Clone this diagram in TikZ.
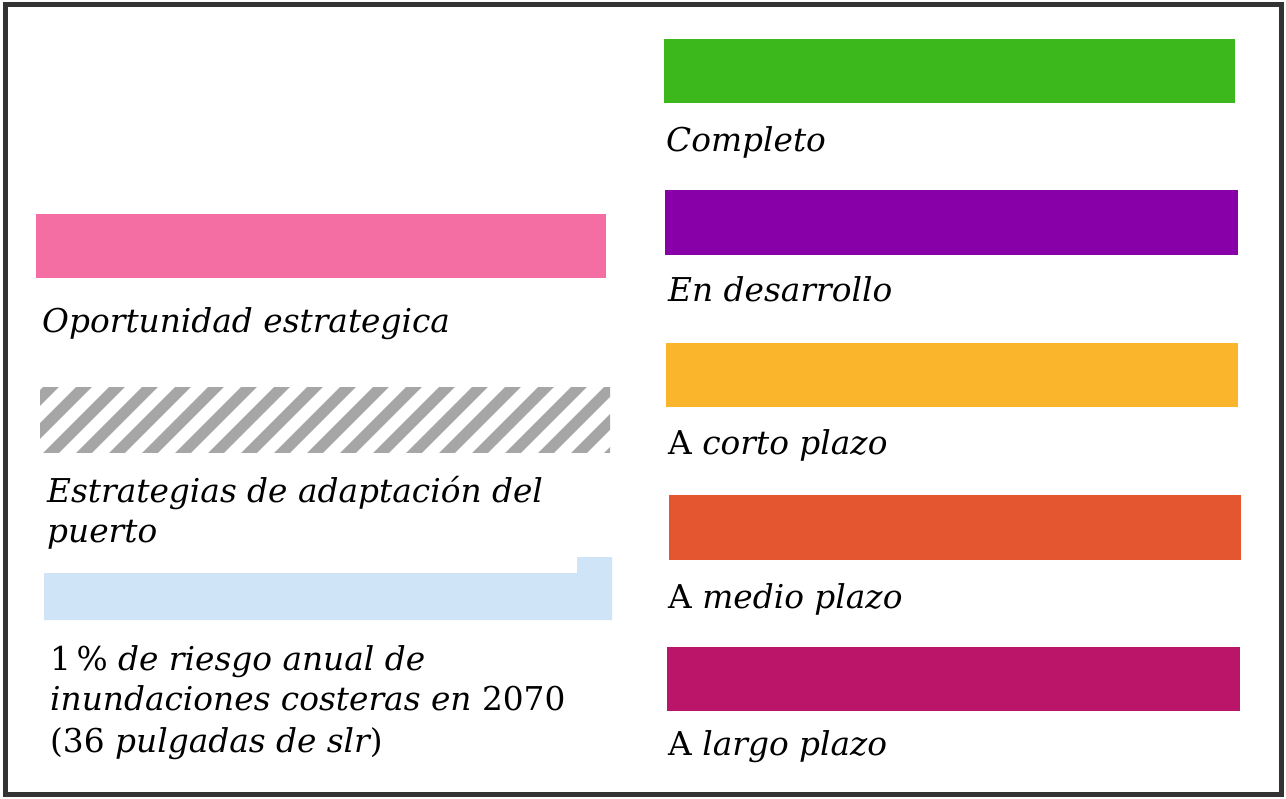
\documentclass[tikz,border=0pt]{standalone}
\usepackage{fontspec}
\setmainfont{DejaVu Serif}
\definecolor{cgreen}{HTML}{3CB81C}
\definecolor{cpurple}{HTML}{8700A8}
\definecolor{cyellow}{HTML}{FBB52D}
\definecolor{corange}{HTML}{E35630}
\definecolor{cmagenta}{HTML}{BA1569}
\definecolor{cpink}{HTML}{F56EA3}
\definecolor{cblue}{HTML}{CFE4F6}
\definecolor{chatch}{HTML}{A6A6A6}
\definecolor{cframe}{HTML}{333333}
\begin{document}
\begin{tikzpicture}[x=1pt,y=-1pt,
  lbl/.style={anchor=base west,inner sep=0pt,font=\fontsize{32.8}{40}\selectfont\itshape}]
\useasboundingbox (0,0) rectangle (1286,799);
\fill[white] (0,0) rectangle (1286,799);
\draw[cframe,line width=5pt] (5,5) rectangle (1281,794);
% right column
\fill[cgreen]   (664,39)  rectangle (1235,103);
\fill[cpurple]  (665,190) rectangle (1238,255);
\fill[cyellow]  (666,343) rectangle (1238,407);
\fill[corange]  (669,495) rectangle (1241,560);
\fill[cmagenta] (667,647) rectangle (1240,711);
\node[lbl] (t1) at (666,152) {Completo};
\node[lbl] (t2) at (668,302) {En desarrollo};
\node[lbl] (t3) at (668,455) {{\upshape A} corto plazo};
\node[lbl] (t4) at (668,608) {{\upshape A} medio plazo};
\node[lbl] (t5) at (668,755) {{\upshape A} largo plazo};
% left column
\fill[cpink] (36,214) rectangle (606,278);
\node[lbl] (l1) at (42,333) {Oportunidad estrategica};
\begin{scope}
  \clip (40,388) rectangle (610,453);
  \foreach \i in {-2,...,19} {
    \draw[chatch,line width=11pt] ({-22+\i*33},460) -- ({58+\i*33},380);
  }
\end{scope}
\node[lbl] (l2a) at (47,503) {Estrategias de adaptación del};
\node[lbl] (l2b) at (47,543) {puerto};
\fill[cblue] (44,573) -- (577,573) -- (577,557) -- (612,557) -- (612,620) -- (44,620) -- cycle;
\node[lbl] (l3a) at (50,670) {{\upshape 1\,\%} de riesgo anual de};
\node[lbl] (l3b) at (50,710) {inundaciones costeras en {\upshape 2070}};
\node[lbl] (l3c) at (50,752) {{\upshape (36} pulgadas de slr{\upshape )}};
\end{tikzpicture}
\end{document}
